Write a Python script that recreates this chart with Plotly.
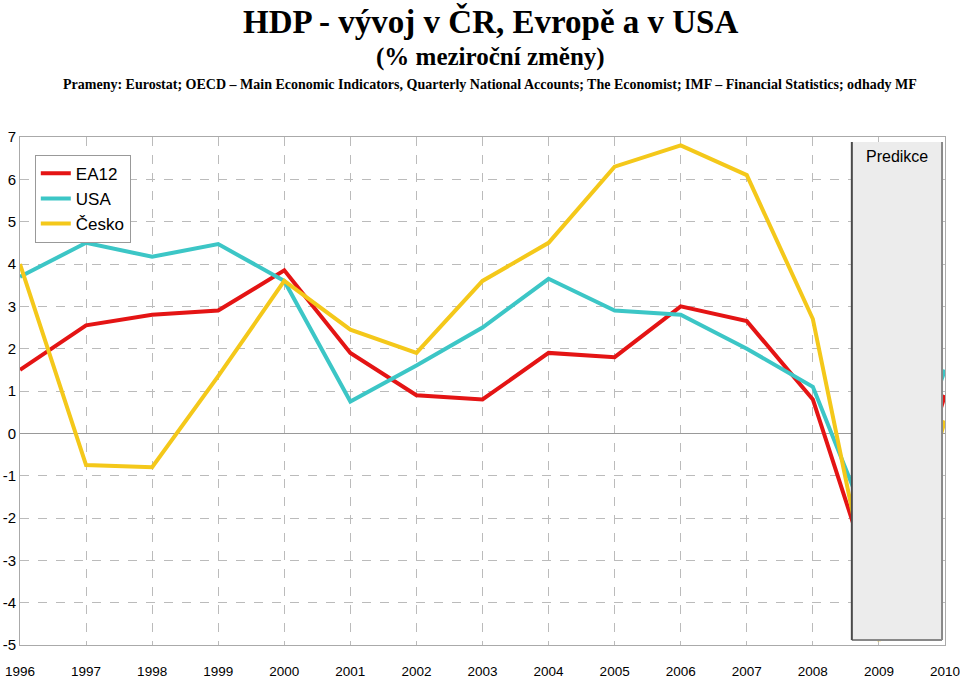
import plotly.graph_objects as go

years = list(range(1996, 2011))
ea12 = [1.5, 2.55, 2.8, 2.9, 3.85, 1.9, 0.9, 0.8, 1.9, 1.8, 3.0, 2.65, 0.8, -4.0, 0.9]
usa = [3.7, 4.5, 4.17, 4.47, 3.6, 0.75, 1.6, 2.5, 3.65, 2.9, 2.8, 2.0, 1.1, -2.8, 1.5]
cesko = [4.0, -0.75, -0.8, 1.35, 3.6, 2.45, 1.9, 3.6, 4.5, 6.3, 6.8, 6.1, 2.7, -4.9, 0.3]
y_ticks = list(range(-5, 8))
y_tick_labels = [str(v) for v in y_ticks]   # plain hyphen minus as in the original
x_tick_labels = [str(y) for y in years]

series_names = ["EA12", "USA", "Česko"]
series_colors = ["#e41414", "#3cc6c6", "#f4c81a"]

title_main = "HDP - vývoj v ČR, Evropě a v USA"
title_sub = "(% meziroční změny)"
title_src = ("Prameny: Eurostat; OECD – Main Economic Indicators, Quarterly National Accounts; "
             "The Economist; IMF – Financial Statistics; odhady MF")
pred_label = "Predikce"

W, H = 960, 680
ML, MR, MT, MB = 20, 15, 137, 35
PW, PH = W - ML - MR, H - MT - MB

fig = go.Figure()
for name, vals, col in zip(series_names, [ea12, usa, cesko], series_colors):
    fig.add_trace(go.Scatter(x=years, y=vals, name=name, mode="lines",
                             line=dict(color=col, width=4)))

narrow = "Liberation Sans Narrow, Arial Narrow, Liberation Sans, Arial, sans-serif"
sans = "Liberation Sans, Arial, sans-serif"
serif = "Liberation Serif, Times New Roman, serif"

fig.update_layout(
    width=W, height=H,
    margin=dict(l=ML, r=MR, t=MT, b=MB, autoexpand=False),
    paper_bgcolor="white", plot_bgcolor="white",
    showlegend=True,
    legend=dict(x=0.016, y=0.965, xanchor="left", yanchor="top",
                bordercolor="#999999", borderwidth=1, bgcolor="white",
                font=dict(family=narrow, size=17, color="black"),
                itemwidth=30, tracegroupgap=0),
    xaxis=dict(range=[1996, 2010], tickmode="array", tickvals=years,
               ticktext=x_tick_labels, automargin=False, ticklabeloverflow="allow",
               showgrid=True, gridcolor="#bbbbbb", griddash="dash", gridwidth=1,
               showline=True, linecolor="#aaaaaa", mirror=True, zeroline=False,
               ticks="", ticklabelstandoff=14,
               tickfont=dict(family=narrow, size=13.5, color="black")),
    yaxis=dict(range=[-5, 7], tickmode="array", tickvals=y_ticks, ticktext=y_tick_labels,
               automargin=False, ticklabeloverflow="allow",
               showgrid=True, gridcolor="#bbbbbb", griddash="dash", gridwidth=1,
               showline=True, linecolor="#aaaaaa", mirror=True,
               zeroline=True, zerolinecolor="#999999", zerolinewidth=1,
               ticks="", ticklabelstandoff=0,
               tickfont=dict(family=sans, size=15, color="black")),
    font=dict(family=serif, color="black"),
)

# forecast box (opaque, drawn over the lines)
bx0, bx1, by0, by1 = 2008.59, 2009.955, -4.88, 6.88
fig.add_shape(type="rect", xref="x", yref="y", x0=bx0, x1=bx1, y0=by0, y1=by1,
              fillcolor="#ececec", line=dict(width=0), layer="above")
fig.add_shape(type="line", xref="x", yref="y", x0=bx1, x1=bx1, y0=by0, y1=by1,
              line=dict(color="#888888", width=2), layer="above")
fig.add_shape(type="line", xref="x", yref="y", x0=bx0, x1=bx1, y0=by0, y1=by0,
              line=dict(color="#888888", width=2), layer="above")
fig.add_shape(type="line", xref="x", yref="y", x0=bx0, x1=bx0, y0=by0, y1=by1,
              line=dict(color="#4a4a4a", width=2), layer="above")
fig.add_annotation(x=2009.28, y=6.78, xref="x", yref="y", text=pred_label, showarrow=False,
                   yanchor="top", font=dict(family=narrow, size=16, color="black"))

for txt, ypx, sz in [(title_main, 22, 33), (title_sub, 57, 25), (title_src, 85, 14)]:
    fig.add_annotation(x=(490 - ML) / PW, y=(MT + PH - ypx) / PH, xref="paper", yref="paper",
                       text="<b>" + txt + "</b>", showarrow=False, yanchor="middle",
                       font=dict(family=serif, size=sz, color="black"))

fig.write_html("out.html", config={"displayModeBar": False},
               post_script="document.body.style.margin='0';document.body.style.overflow='hidden';")
